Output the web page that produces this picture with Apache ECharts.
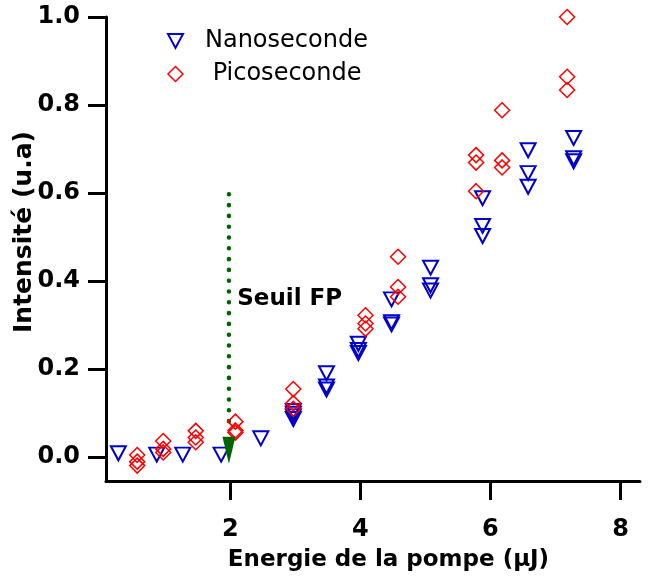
<!DOCTYPE html>
<html>
<head>
<meta charset="utf-8">
<script src="https://cdn.jsdelivr.net/npm/echarts@6/dist/echarts.min.js"></script>
<style>
html,body{margin:0;padding:0;background:#fff;}
#chart{width:649px;height:579px;}
</style>
</head>
<body>
<div id="chart"></div>
<script>
// ---- data ----
const nanoX = [0.28, 0.87, 1.27, 1.86, 2.47, 2.97, 2.97, 2.97, 2.97, 3.48, 3.48, 3.48, 3.97, 3.97, 3.97, 4.48, 4.48, 4.48, 5.08, 5.08, 5.08, 5.88, 5.88, 5.88, 6.58, 6.58, 6.58, 7.28, 7.28, 7.28];
const nanoY = [0.008, 0.005, 0.005, 0.005, 0.042, 0.104, 0.098, 0.092, 0.086, 0.19, 0.16, 0.153, 0.257, 0.243, 0.236, 0.358, 0.306, 0.301, 0.43, 0.39, 0.378, 0.588, 0.525, 0.502, 0.697, 0.645, 0.614, 0.725, 0.679, 0.672];
const picoX = [0.57, 0.57, 0.57, 0.97, 0.97, 0.97, 1.47, 1.47, 1.47, 2.08, 2.08, 2.08, 2.97, 2.97, 2.97, 4.08, 4.08, 4.08, 4.58, 4.58, 4.58, 5.78, 5.78, 5.78, 6.18, 6.18, 6.18, 7.18, 7.18, 7.18];
const picoY = [0.004, -0.011, -0.02, 0.036, 0.018, 0.01, 0.059, 0.044, 0.033, 0.08, 0.06, 0.055, 0.154, 0.122, 0.109, 0.322, 0.303, 0.291, 0.455, 0.386, 0.364, 0.686, 0.669, 0.604, 0.788, 0.674, 0.658, 1.0, 0.864, 0.834];
const seriesNames = ['Nanoseconde', 'Picoseconde'];
const thresholdX = 1.98;
const thresholdLineY = [0.597, 0.062];
const thresholdArrowY = 0.015;
const thresholdLabel = 'Seuil FP';
const thresholdLabelPos = [2.1, 0.358];
const xTicks = [2, 4, 6, 8];
const yTicks = [0.0, 0.2, 0.4, 0.6, 0.8, 1.0];
const xTitle = 'Energie de la pompe (µJ)';
const yTitle = 'Intensité (u.a)';

const FONT = 'DejaVu Sans';
const zip = (xs, ys) => xs.map((x, i) => [x, ys[i]]);
const NANO_COLOR = '#0000cc';
const PICO_COLOR = '#ff0000';

const chart = echarts.init(document.getElementById('chart'), null, {renderer: 'canvas'});
chart.setOption({
  animation: false,
  backgroundColor: '#ffffff',
  grid: {left: 106, right: 9, top: 17, bottom: 98, containLabel: false, outerBoundsMode: 'none'},
  legend: {
    data: [
      {name: seriesNames[0], icon: 'path://M0,0 L15,0 L7.5,14 Z', itemStyle: {color: 'transparent', borderColor: NANO_COLOR, borderWidth: 2, opacity: 1}},
      {name: seriesNames[1], icon: 'path://M7.5,0 L15,7.5 L7.5,15 L0,7.5 Z', itemStyle: {color: 'transparent', borderColor: PICO_COLOR, borderWidth: 1.5, opacity: 1}}
    ],
    orient: 'vertical',
    left: 167,
    top: 29,
    padding: 0,
    itemWidth: 15,
    itemHeight: 15,
    itemGap: 9,
    selectedMode: false,
    formatter: n => '{g|}' + (n === 'Picoseconde' ? ' ' : '') + n,
    textStyle: {
      fontFamily: FONT, fontSize: 24, color: '#000', lineHeight: 24,
      rich: {g: {width: 17}}
    }
  },
  xAxis: {
    type: 'value',
    min: 0.09, max: 8.3,
    name: xTitle,
    nameLocation: 'middle',
    nameGap: 68,
    nameMoveOverlap: false,
    nameTextStyle: {fontFamily: FONT, fontSize: 23, fontWeight: 'bold', color: '#000', padding: [0, 0, 0, 31]},
    axisLine: {show: true, onZero: false, lineStyle: {color: '#000', width: 3}},
    axisTick: {show: true, length: 19, customValues: xTicks, lineStyle: {color: '#000', width: 3}},
    axisLabel: {show: true, customValues: xTicks, margin: 37, fontFamily: FONT, fontSize: 24, fontWeight: 'bold', color: '#000', formatter: v => String(Math.round(v))},
    splitLine: {show: false}
  },
  yAxis: {
    type: 'value',
    min: -0.055, max: 1.0,
    name: yTitle,
    nameLocation: 'middle',
    nameGap: 69,
    nameMoveOverlap: false,
    nameTextStyle: {fontFamily: FONT, fontSize: 25, fontWeight: 'bold', color: '#000', padding: [0, 0, 0, 34]},
    axisLine: {show: true, onZero: false, lineStyle: {color: '#000', width: 3}},
    axisTick: {show: true, length: 18, customValues: yTicks, lineStyle: {color: '#000', width: 3}},
    axisLabel: {show: true, customValues: yTicks, margin: 26, fontFamily: FONT, fontSize: 24, fontWeight: 'bold', color: '#000', formatter: v => v.toFixed(1)},
    splitLine: {show: false}
  },
  series: [
    {
      name: 'threshold-line',
      type: 'line',
      data: thresholdLineY.map(y => [thresholdX, y]),
      symbol: 'none',
      lineStyle: {color: '#006400', width: 4.5, type: [0.1, 10.7], cap: 'round', opacity: 1},
      z: 3
    },
    {
      name: 'Nanoseconde',
      type: 'scatter',
      data: zip(nanoX, nanoY),
      symbol: 'triangle',
      symbolRotate: 180,
      symbolSize: [15, 14],
      itemStyle: {color: 'transparent', borderColor: NANO_COLOR, borderWidth: 2, opacity: 1},
      z: 4
    },
    {
      name: 'Picoseconde',
      type: 'scatter',
      data: zip(picoX, picoY),
      symbol: 'diamond',
      symbolSize: 15,
      itemStyle: {color: 'transparent', borderColor: PICO_COLOR, borderWidth: 1.5, opacity: 1},
      z: 4
    },
    {
      name: 'threshold-arrow',
      type: 'scatter',
      data: [[thresholdX, thresholdArrowY]],
      symbol: 'triangle',
      symbolRotate: 180,
      symbolSize: [13, 27],
      itemStyle: {color: '#006400', opacity: 1},
      z: 5
    },
    {
      name: 'threshold-label',
      type: 'scatter',
      data: [thresholdLabelPos],
      symbolSize: 1,
      itemStyle: {color: 'transparent', opacity: 1},
      label: {
        show: true, position: 'right', distance: 0, formatter: thresholdLabel,
        fontFamily: FONT, fontSize: 23, fontWeight: 'bold', color: '#000',
        textBorderWidth: 0
      },
      z: 6
    }
  ]
});
</script>
</body>
</html>
